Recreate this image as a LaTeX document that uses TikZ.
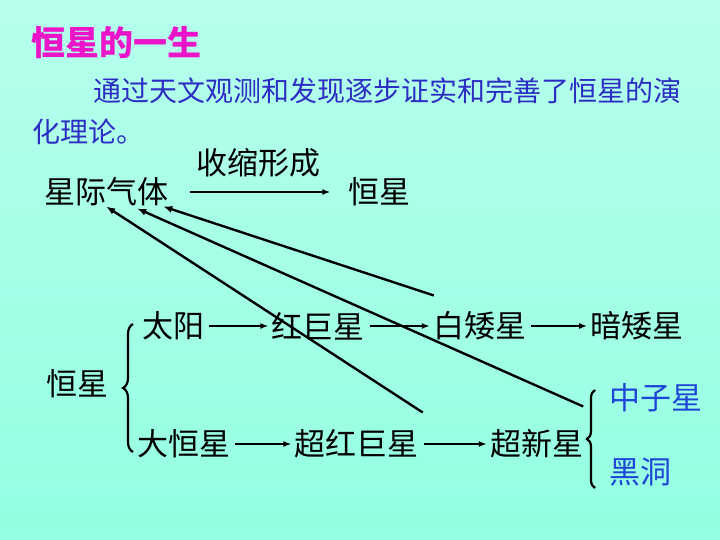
\documentclass[tikz,border=0pt]{standalone}
\usepackage{fontspec}
\newfontfamily\cjk{Noto Sans CJK SC}
\usetikzlibrary{arrows.meta, positioning, decorations.pathreplacing}
\definecolor{titlepink}{RGB}{236,20,200}
\definecolor{textblue}{RGB}{45,45,195}
\definecolor{endblue}{RGB}{30,70,215}
\definecolor{bgtop}{RGB}{182,255,236}
\definecolor{bgbottom}{RGB}{148,255,226}
\begin{document}
\begin{tikzpicture}[x=1pt, y=-1pt, stage/.style={inner sep=0pt, anchor=west, font=\cjk\fontsize{31}{36}\selectfont}, arrow/.style={-{Latex[length=8pt,width=6pt]}, line width=2.2pt, shorten <=5pt, shorten >=3pt}, back/.style={-{Latex[length=9pt,width=7pt]}, line width=2.4pt}, curly/.style={decorate, decoration={brace, amplitude=#1}, line width=2.2pt}]

\shade[top color=bgtop, bottom color=bgbottom] (0,0) rectangle (720,540);
\useasboundingbox (0,0) rectangle (720,540);

\node[inner sep=0pt, anchor=west, text=titlepink, font=\cjk\bfseries\fontsize{34}{40}\selectfont] (title) at (31,43) {恒星的一生};
\node[inner sep=0pt, anchor=north west, align=left, text=textblue, font=\cjk\fontsize{28}{41}\selectfont] (intro) at (32,78) {\hspace*{61pt}通过天文观测和发现逐步证实和完善了恒星的演\\化理论。};

\node[stage] (gas) at (44,192) {星际气体};
\node[stage, right=180pt of gas] (star) {恒星};
\draw[arrow, shorten <=22pt, shorten >=18pt] (gas) -- node[above=14pt, inner sep=0pt, font=\cjk\fontsize{31}{36}\selectfont] (shrink) {收缩形成} (star);

\node[stage] (stars) at (46,384) {恒星};
\node[stage] (sun) at (142,326) {太阳};
\node[stage, right=67pt of sun] (redgiant) {红巨星};
\node[stage, right=68pt of redgiant] (whitedwarf) {白矮星};
\node[stage, right=64pt of whitedwarf] (darkdwarf) {暗矮星};
\node[stage] (bigstar) at (137,444) {大恒星};
\node[stage, right=64pt of bigstar] (supergiant) {超红巨星};
\node[stage, right=71pt of supergiant] (supernova) {超新星};
\node[stage, text=endblue] (neutron) at (609,398) {中子星};
\node[stage, text=endblue] (blackhole) at (609,472) {黑洞};

\draw[arrow](sun)--(redgiant);\draw[arrow](redgiant)--(whitedwarf);\draw[arrow](whitedwarf)--(darkdwarf);
\draw[arrow](bigstar)--(supergiant);\draw[arrow](supergiant)--(supernova);

\draw[curly=10pt] (133,452) -- (133,324);
\draw[curly=8pt] (595,488) -- (595,390);

\coordinate (fromwhite) at ([xshift=1pt, yshift=16pt]whitedwarf.north west);
\coordinate (fromsuper) at ([xshift=4pt, yshift=17pt]supergiant.north east);
\coordinate (fromnova) at ([yshift=23pt]supernova.north east);
\draw[back](fromsuper)--(gas.south);\draw[back](fromnova)--([xshift=31pt, yshift=-2pt]gas.south);\draw[back](fromwhite)--([xshift=57pt]gas.south);

\end{tikzpicture}
\end{document}
